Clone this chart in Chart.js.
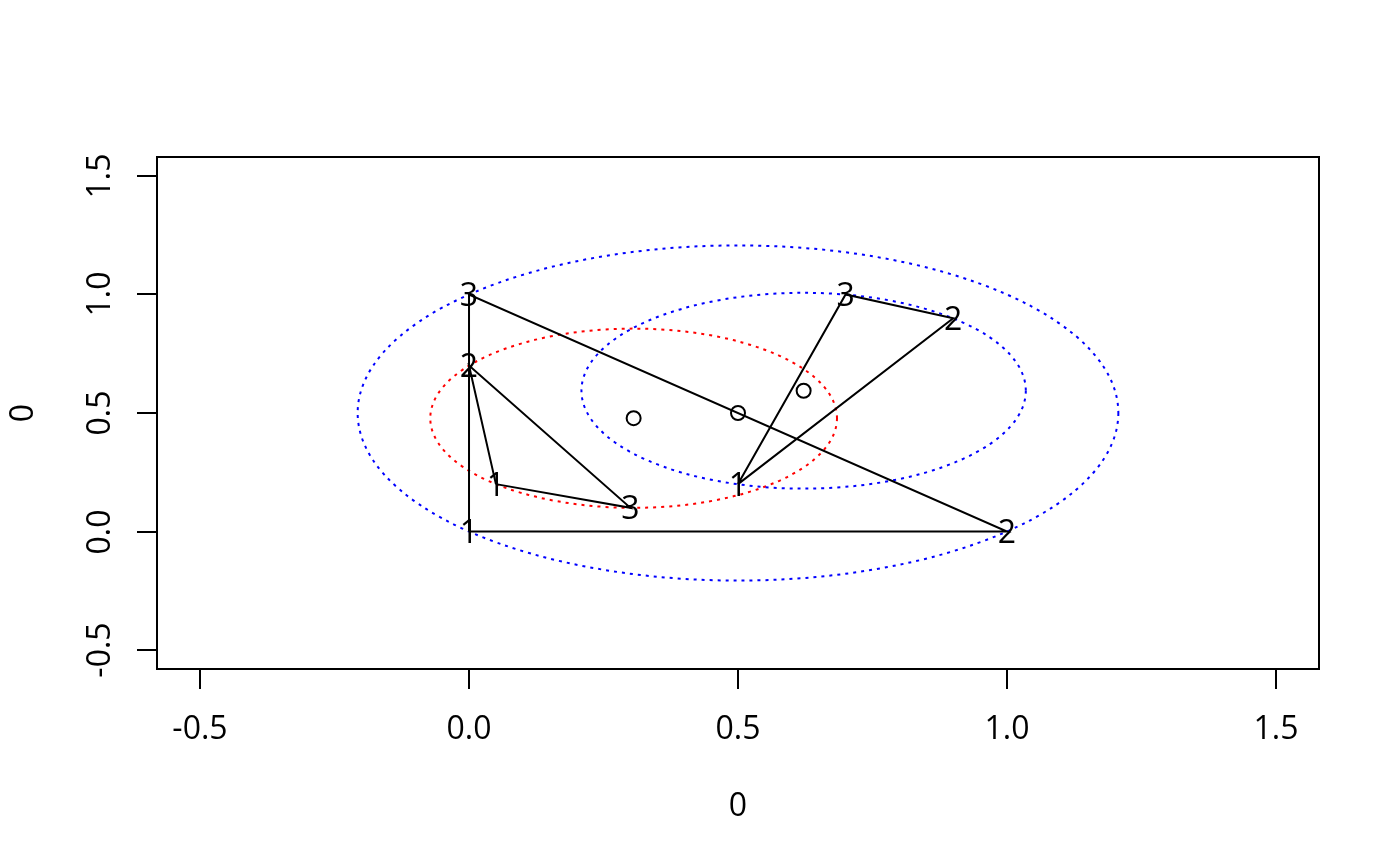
<!DOCTYPE html>
<html>
<head>
<meta charset="utf-8">
<script src="https://cdn.jsdelivr.net/npm/chart.js@4.4.1/dist/chart.umd.min.js"></script>
<style>
  html, body { margin: 0; padding: 0; background: #fff; }
  canvas { display: block; }
</style>
</head>
<body>
<canvas id="graphique" width="1400" height="866"></canvas>
<script>
// triangle vertices, numbered 1, 2, 3 on the plot
var vertexLabels = ['1', '2', '3'];
var tri1X = [0, 1, 0];
var tri1Y = [0, 0, 1];
var tri2X = [0.05, 0, 0.3];
var tri2Y = [0.2, 0.7, 0.1];
var tri3X = [0.5, 0.9, 0.7];
var tri3Y = [0.2, 0.9, 1.0];

// circle centres (open markers) and radii of the dotted circles
var centerX = [0.5, 0.306, 0.622];
var centerY = [0.5, 0.478, 0.594];
var radius = [0.707, 0.378, 0.413];

var tickValues = [-0.5, 0, 0.5, 1, 1.5];
var tickLabels = ['-0.5', '0.0', '0.5', '1.0', '1.5'];
var xTitle = '0';
var yTitle = '0';

var FONT = '32px "Open Sans", "Noto Sans", sans-serif';

function closedPath(xs, ys) {
    var pts = xs.map(function(x, i) { return { x: x, y: ys[i] }; });
    pts.push({ x: xs[0], y: ys[0] });
    return pts;
}

function triangle(xs, ys) {
    return {
        data: closedPath(xs, ys),
        showLine: true,
        borderColor: '#000',
        borderWidth: 2,
        pointRadius: 0,
        tension: 0,
        vertexText: true
    };
}

// dotted circles, drawn through the scales
var circlePlugin = {
    id: 'circles',
    beforeDatasetsDraw: function(chart, args, opts) {
        var ctx = chart.ctx, sx = chart.scales.x, sy = chart.scales.y;
        ctx.save();
        ctx.lineWidth = 2;
        ctx.setLineDash([3, 5]);
        centerX.forEach(function(cx, i) {
            var px = sx.getPixelForValue(cx), py = sy.getPixelForValue(centerY[i]);
            var rx = Math.abs(sx.getPixelForValue(cx + radius[i]) - px);
            var ry = Math.abs(sy.getPixelForValue(centerY[i] + radius[i]) - py);
            ctx.strokeStyle = opts.colors[i];
            ctx.beginPath();
            ctx.ellipse(px, py, rx, ry, 0, 0, Math.PI * 2);
            ctx.stroke();
        });
        ctx.restore();
    }
};

// vertex numbers, box, axes and titles in the style of base R graphics
var framePlugin = {
    id: 'frame',
    afterDatasetsDraw: function(chart) {
        var ctx = chart.ctx, a = chart.chartArea;
        var sx = chart.scales.x, sy = chart.scales.y;
        ctx.save();
        ctx.fillStyle = '#000';
        ctx.strokeStyle = '#000';
        ctx.font = FONT;
        ctx.textAlign = 'center';
        ctx.textBaseline = 'alphabetic';

        chart.data.datasets.forEach(function(ds) {
            if (!ds.vertexText) return;
            for (var i = 0; i < vertexLabels.length; i++) {
                var p = ds.data[i];
                ctx.fillText(vertexLabels[i], sx.getPixelForValue(p.x), sy.getPixelForValue(p.y) + 11.4);
            }
        });

        ctx.lineWidth = 2;
        ctx.strokeRect(a.left, a.top, a.right - a.left, a.bottom - a.top);

        tickValues.forEach(function(v, i) {
            var px = Math.round(sx.getPixelForValue(v));
            ctx.beginPath();
            ctx.moveTo(px, a.bottom);
            ctx.lineTo(px, a.bottom + 20);
            ctx.stroke();
            ctx.fillText(tickLabels[i], px, 739);

            var py = Math.round(sy.getPixelForValue(v));
            ctx.beginPath();
            ctx.moveTo(a.left - 20, py);
            ctx.lineTo(a.left, py);
            ctx.stroke();
            ctx.save();
            ctx.translate(110.4, py);
            ctx.rotate(-Math.PI / 2);
            ctx.fillText(tickLabels[i], 0, 0);
            ctx.restore();
        });

        ctx.fillText(xTitle, (a.left + a.right) / 2, 816);
        ctx.save();
        ctx.translate(33.4, (a.top + a.bottom) / 2);
        ctx.rotate(-Math.PI / 2);
        ctx.fillText(yTitle, 0, 0);
        ctx.restore();
        ctx.restore();
    }
};

document.addEventListener('DOMContentLoaded', function() {
    var ctx = document.getElementById('graphique').getContext('2d');
    var graphique = new Chart(ctx, {
        type: 'scatter',
        data: {
            datasets: [
                triangle(tri1X, tri1Y),
                triangle(tri2X, tri2Y),
                triangle(tri3X, tri3Y),
                {
                    data: centerX.map(function(x, i) { return { x: x, y: centerY[i] }; }),
                    pointStyle: 'circle',
                    pointRadius: 7,
                    pointBorderWidth: 2,
                    pointBorderColor: '#000',
                    pointBackgroundColor: 'rgba(0,0,0,0)',
                    showLine: false
                }
            ]
        },
        options: {
            responsive: false,
            devicePixelRatio: 1,
            animation: false,
            layout: { padding: { left: 157, top: 157, right: 81, bottom: 197 } },
            scales: {
                x: { type: 'linear', min: -0.58, max: 1.58, display: false },
                y: { type: 'linear', min: -0.58, max: 1.58, display: false }
            },
            plugins: {
                legend: { display: false },
                tooltip: { enabled: false },
                circles: { colors: ['#0000ff', '#ff0000', '#0000ff'] }
            }
        },
        plugins: [circlePlugin, framePlugin]
    });
});
</script>
</body>
</html>
